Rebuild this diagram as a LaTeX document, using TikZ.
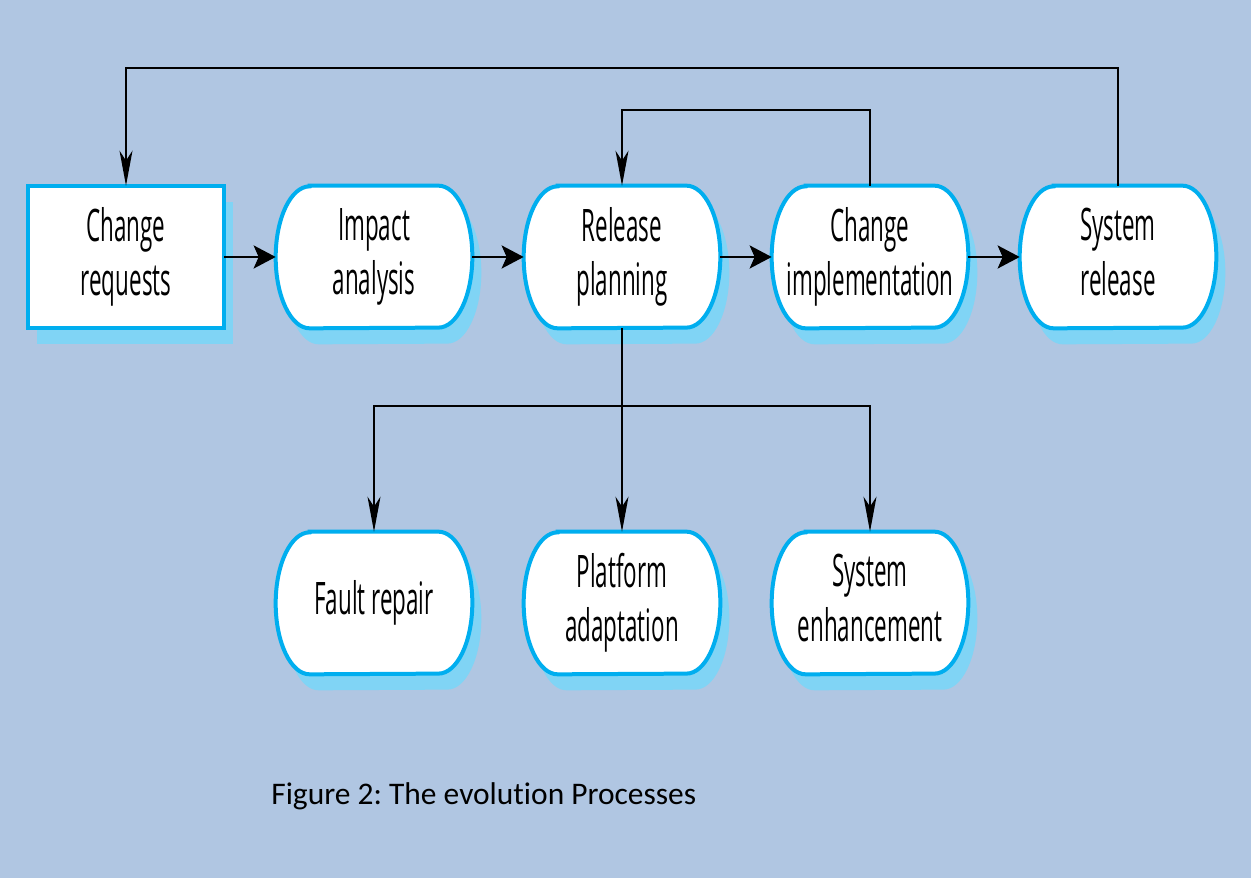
\documentclass[tikz,border=0pt]{standalone}
\usepackage{fontspec}
\newfontfamily\procfont[FakeStretch=0.5]{Open Sans}
\newfontfamily\capfont[Ligatures=NoCommon]{Carlito}
\usetikzlibrary{arrows.meta,backgrounds}
\definecolor{bgblue}{RGB}{176,198,226}
\definecolor{edgeblue}{RGB}{0,174,239}
\definecolor{shadeblue}{RGB}{128,212,245}
\frenchspacing
% outline of a stage with bulging ends, #1 node, #2 offset
\newcommand{\stagepath}[2]{([shift={#2},xshift=0.68cm]#1.north west) -- ([shift={#2},xshift=-0.68cm]#1.north east) arc[start angle=90,end angle=-90,x radius=0.68cm,y radius=1.42cm] -- ([shift={#2},xshift=0.68cm]#1.south west) arc[start angle=270,end angle=90,x radius=0.68cm,y radius=1.42cm] -- cycle}

\begin{document}
\begin{tikzpicture}[x=0.02cm,y=0.02cm,
    proc/.style={rectangle, minimum width=3.92cm, minimum height=2.84cm, inner sep=0pt, align=center, font=\procfont\fontsize{25.5}{31}\selectfont, execute at end node=\vphantom{g}},
    edge/.style={draw=edgeblue, line width=0.08cm, fill=white},
    hflow/.style={line width=0.055cm, -{Stealth[length=0.44cm,width=0.46cm,inset=0.1cm]}},
    vflow/.style={line width=0.035cm, -{Stealth[length=0.7cm,width=0.26cm,inset=0.2cm]}}]
        % Canvas
        \begin{scope}[on background layer]
            \fill[bgblue] (0,0) rectangle (1251,878);
        \end{scope}
        \useasboundingbox (0,0) rectangle (1251,878);
        % Main stages
        \node[proc] (cr) at (126,621) {Change\\requests};
        \node[proc] (ia) at (374,621) {Impact\\analysis};
        \node[proc] (rp) at (622,621) {Release\\planning};
        \node[proc] (ci) at (870,621) {Change\\implementation};
        \node[proc] (sr) at (1118,621) {System\\release};
        % Kinds of change
        \node[proc] (fr) at (374,275) {Fault repair};
        \node[proc] (pa) at (622,275) {Platform\\adaptation};
        \node[proc] (se) at (870,275) {System\\enhancement};
        % Caption
        \node[anchor=west, inner sep=0pt, font=\capfont\fontsize{17.9}{22}\selectfont] (cap) at (271,82) {Figure 2: The evolution Processes};
        % Outlines and shadows
        \begin{scope}[on background layer]
            \fill[shadeblue] ([shift={(9,-16)}]cr.north west) rectangle ([shift={(9,-16)}]cr.south east);
            \draw[edge] (cr.north west) rectangle (cr.south east);
            \foreach \n in {ia,rp,ci,sr,fr,pa,se}{
                \fill[shadeblue] \stagepath{\n}{(9,-16)};
                \path[edge] \stagepath{\n}{(0,0)};
            }
        \end{scope}
        % Flow
        \foreach \a/\b in {cr/ia,ia/rp,rp/ci,ci/sr}
            \draw[hflow] (\a.east) -- (\b.west);
        % Feedback lines
        \coordinate (outer) at (0,810);
        \coordinate (inner) at (0,768);
        \coordinate (bus) at (0,472);
        \draw[vflow] (sr.north) -- (sr.north |- outer) -| (cr.north);
        \draw[vflow] (ci.north) -- (ci.north |- inner) -| (rp.north);
        % Branches
        \draw[vflow] (rp.south) -- (pa.north);
        \draw[vflow] (rp.south |- bus) -| (fr.north);
        \draw[vflow] (rp.south |- bus) -| (se.north);
    \end{tikzpicture}
\end{document}
